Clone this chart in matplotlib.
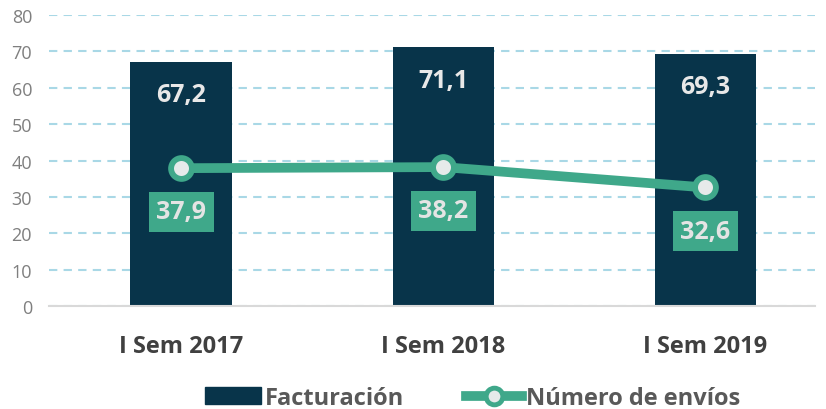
import matplotlib.pyplot as plt
from matplotlib.lines import Line2D
from matplotlib.patches import Patch

periodos = ["I Sem 2017", "I Sem 2018", "I Sem 2019"]
facturacion = [67.2, 71.1, 69.3]
envios = [37.9, 38.2, 32.6]

azul = "#08344a"
verde = "#3fa88a"

plt.rcParams['font.family'] = ['Open Sans', 'DejaVu Sans']

fig = plt.figure(figsize=(8.26, 4.10), dpi=100)
ax = fig.add_axes([0.059, 0.251, 0.928, 0.710])

x = list(range(len(periodos)))
ax.bar(x, facturacion, width=0.386, color=azul, zorder=2)
ax.plot(x, envios, color=verde, lw=7, marker="o", ms=15,
        mfc="#e6eaea", mec=verde, mew=4.2, zorder=4, solid_capstyle="round")

for xi, v in zip(x, facturacion):
    ax.text(xi, v - 9, f"{v:.1f}".replace(".", ","), ha="center", va="center",
            color="#e8e8e8", fontsize=18, fontweight="bold", zorder=5)
for xi, v in zip(x, envios):
    ax.text(xi, v - 12, f"{v:.1f}".replace(".", ","), ha="center", va="center",
            color="#e4e4e4", fontsize=18, fontweight="bold", zorder=5,
            bbox=dict(boxstyle="square,pad=0.3", fc=verde, ec="none"))

ax.set_ylim(0, 80)
ax.set_xlim(-0.505, 2.42)
ax.set_yticks(range(0, 81, 10))
ax.yaxis.grid(True, ls=(0, (4, 3)), color="#a9d8e6", lw=1.5, zorder=0)
ax.set_axisbelow(True)
for s in ["top", "right", "left"]:
    ax.spines[s].set_visible(False)
ax.spines["bottom"].set_color("#d9d9d9")
ax.spines["bottom"].set_linewidth(1.5)
ax.tick_params(axis="y", length=0, labelsize=13, labelcolor="#7f7f7f", pad=12)
ax.tick_params(axis="x", length=0, pad=20)
ax.set_xticks(x)
ax.set_xticklabels(periodos, fontsize=17, fontweight="bold", color="#404040")

handles = [Patch(color=azul),
           Line2D([0], [0], color=verde, lw=7, marker="o", ms=12,
                  mfc="#e6eaea", mec=verde, mew=3.5)]
fig.legend(handles, ["Facturación", "Número de envíos"], loc="center",
           bbox_to_anchor=(0.572, 0.027), ncol=2, frameon=False,
           prop=dict(size=17, weight="bold"), labelcolor="#595959",
           handlelength=2.4, handletextpad=0.15, columnspacing=2.6)

fig.savefig("out.png", dpi=100)
